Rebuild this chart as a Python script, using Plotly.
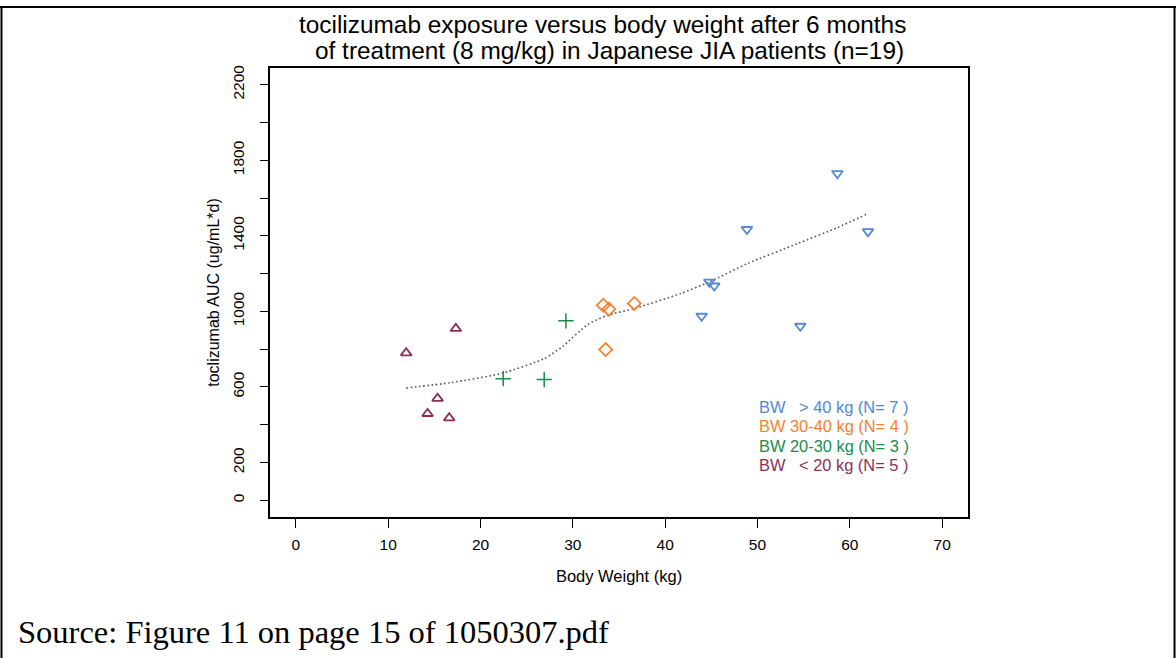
import plotly.graph_objects as go

# ---- data ----
bw_gt40_x = [58.65, 48.86, 61.97, 44.78, 45.32, 43.95, 54.64]
bw_gt40_y = [1730, 1434, 1423, 1156, 1135, 975, 922]

bw_30_40_x = [33.3, 33.9, 36.66, 33.55]
bw_30_40_y = [1033, 1012, 1042, 798]

bw_20_30_x = [22.46, 26.9, 29.25]
bw_20_30_y = [644, 639, 950]

bw_lt20_x = [11.95, 17.33, 15.35, 14.27, 16.61]
bw_lt20_y = [780, 909, 539, 459, 436]

smooth_x = [11.95, 16.8, 22.46, 26.9, 28.9, 31.6, 33.8, 36.66, 41.7, 44.8, 48.9, 54.35, 58.7, 61.76]
smooth_y = [595, 623, 674, 750, 815, 930, 980, 1015, 1095, 1156, 1253, 1359, 1444, 1513]

legend_labels = [
    "BW\u00a0\u00a0\u00a0> 40 kg (N= 7 )",
    "BW 30-40 kg (N= 4 )",
    "BW 20-30 kg (N= 3 )",
    "BW\u00a0\u00a0\u00a0< 20 kg (N= 5 )",
]
colors = ["#5288d4", "#f5822e", "#1a8c4a", "#8c2f55"]

title_lines = ["tocilizumab exposure versus body weight after 6 months",
               "of treatment (8 mg/kg) in Japanese JIA patients (n=19)"]

y_tickvals = list(range(0, 2201, 200))
y_ticktext = ["0", "200", "", "600", "", "1000", "", "1400", "", "1800", "", "2200"]
x_tickvals = [0, 10, 20, 30, 40, 50, 60, 70]

FONT = "Liberation Sans, Arial, sans-serif"

fig = go.Figure()
fig.add_trace(go.Scatter(x=smooth_x, y=smooth_y, mode="lines",
                         line=dict(color="#555555", width=1.6, dash="1.6px,2.6px", shape="spline", smoothing=0.6),
                         showlegend=False, hoverinfo="skip"))
fig.add_trace(go.Scatter(x=bw_gt40_x, y=bw_gt40_y, mode="markers", marker=dict(symbol="triangle-down-open", size=9.5, color=colors[0], line=dict(width=1.8, color=colors[0])), showlegend=False))
fig.add_trace(go.Scatter(x=bw_30_40_x, y=bw_30_40_y, mode="markers", marker=dict(symbol="diamond-open", size=10, color=colors[1], line=dict(width=1.8, color=colors[1])), showlegend=False))
fig.add_trace(go.Scatter(x=bw_20_30_x, y=bw_20_30_y, mode="markers", marker=dict(symbol="cross-thin-open", size=11, color=colors[2], line=dict(width=1.5, color=colors[2])), showlegend=False))
fig.add_trace(go.Scatter(x=bw_lt20_x, y=bw_lt20_y, mode="markers", marker=dict(symbol="triangle-up-open", size=9.5, color=colors[3], line=dict(width=1.8, color=colors[3])), showlegend=False))

L, R, T, B = 270, 208, 68, 141
W, H = 1176, 658
pw, ph = W - L - R, H - T - B


def px2paper_x(x):
    return (x - L) / pw


def px2paper_y(y):
    return (H - B - y) / ph


annotations = []
for i, (lab, c) in enumerate(zip(legend_labels, colors)):
    ypix = 407 + i * 19.3
    annotations.append(dict(xref="paper", yref="paper", x=px2paper_x(757), y=px2paper_y(ypix),
                            text=lab, showarrow=False, xanchor="left", yanchor="middle",
                            font=dict(family=FONT, size=16.4, color=c)))
annotations.append(dict(xref="paper", yref="paper", x=px2paper_x(16), y=px2paper_y(632),
                        text="Source: Figure 11 on page 15 of 1050307.pdf", showarrow=False,
                        xanchor="left", yanchor="middle",
                        font=dict(family="Liberation Serif, Times New Roman, serif", size=32.5, color="black")))
for cx, cy, line in [(602, 25, title_lines[0]), (609, 50, title_lines[1])]:
    annotations.append(dict(xref="paper", yref="paper", x=px2paper_x(cx), y=px2paper_y(cy),
                            text=line, showarrow=False, xanchor="center", yanchor="middle",
                            font=dict(family=FONT, size=24.4, color="black")))

shapes = [
    dict(type="line", xref="paper", yref="paper", x0=px2paper_x(0), x1=px2paper_x(W), y0=px2paper_y(7), y1=px2paper_y(7), line=dict(color="black", width=2)),
    dict(type="line", xref="paper", yref="paper", x0=px2paper_x(1.5), x1=px2paper_x(1.5), y0=px2paper_y(7), y1=px2paper_y(H), line=dict(color="black", width=2)),
    dict(type="line", xref="paper", yref="paper", x0=px2paper_x(W - 1.5), x1=px2paper_x(W - 1.5), y0=px2paper_y(7), y1=px2paper_y(H), line=dict(color="black", width=2)),
]

fig.update_layout(
    width=W, height=H,
    margin=dict(l=L, r=R, t=T, b=B),
    plot_bgcolor="white", paper_bgcolor="white",
    font=dict(family=FONT, color="black"),
    annotations=annotations, shapes=shapes,
    xaxis=dict(range=[-2.8, 72.8], tickvals=x_tickvals, ticks="outside", ticklen=9, tickwidth=1.3,
               tickcolor="black", showline=True, linecolor="black", linewidth=1.6, mirror=True,
               showgrid=False, zeroline=False, tickfont=dict(family=FONT, size=15.5),
               ticklabelstandoff=4,
               title=dict(text="Body Weight (kg)", font=dict(family=FONT, size=16.5), standoff=18)),
    yaxis=dict(range=[-88, 2288], tickvals=y_tickvals, ticktext=y_ticktext, tickangle=-90,
               ticks="outside", ticklen=8, tickwidth=1.3, tickcolor="black",
               showline=True, linecolor="black", linewidth=1.6, mirror=True,
               showgrid=False, zeroline=False, tickfont=dict(family=FONT, size=15.5),
               ticklabelstandoff=10,
               title=dict(text="toclizumab AUC (ug/mL*d)", font=dict(family=FONT, size=16), standoff=6)),
)

fig.write_html("out.html", config={"displayModeBar": False},
               post_script="document.body.style.margin='0px';")
